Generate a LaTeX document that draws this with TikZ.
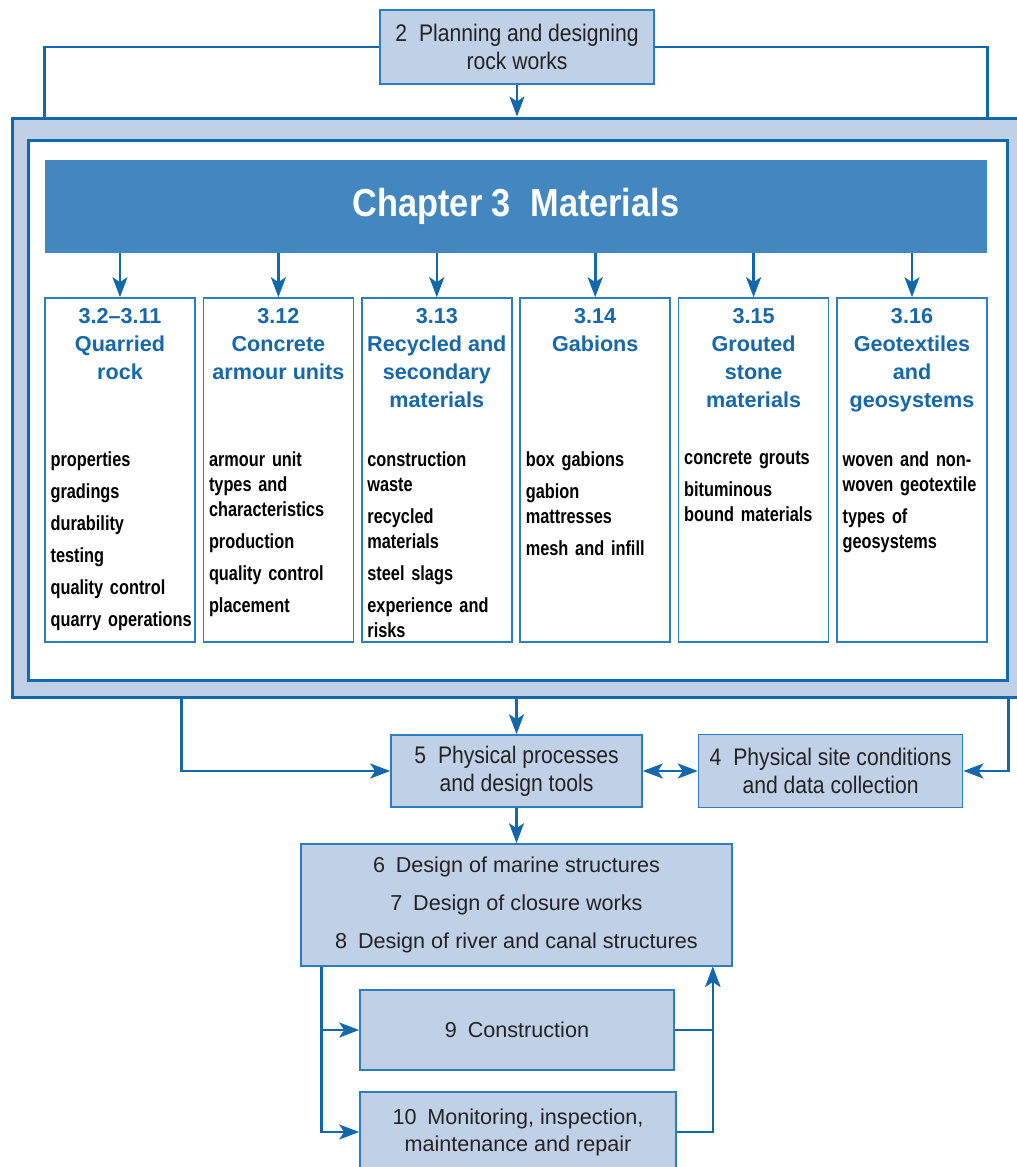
\documentclass[tikz,border=0pt]{standalone}
\usepackage{fontspec}
\setmainfont{Liberation Sans}
\newfontfamily\narrowfont[FakeStretch=0.88]{Liberation Sans}
\newfontfamily\listfont[FakeStretch=0.8]{Liberation Sans}
\newfontfamily\titlefont[FakeStretch=0.88]{Liberation Sans}
\newcommand{\narrowspace}{\spaceskip 2.9pt plus 1pt\relax}
\newcommand{\listspace}{\spaceskip 2.2pt plus 1pt\relax}
\usepackage{tikz}
\usetikzlibrary{arrows.meta, positioning}
\definecolor{linkblue}{RGB}{18,104,170}
\definecolor{boxblue}{RGB}{45,125,195}
\definecolor{paleblue}{RGB}{192,208,230}
\definecolor{bannerblue}{RGB}{66,135,192}
\definecolor{headblue}{RGB}{22,104,170}
\definecolor{textgrey}{RGB}{35,35,35}
\tikzset{
    box/.style={rectangle, draw=boxblue, fill=paleblue, line width=0.8pt, align=center, inner sep=0pt, text=textgrey},
    narrowbox/.style={box, font=\narrowfont\fontsize{12}{14}\selectfont\narrowspace},
    widebox/.style={box, font=\fontsize{10.8}{13.5}\selectfont},
    colbox/.style={rectangle, draw=boxblue, fill=white, line width=0.8pt, minimum width=75pt, minimum height=172pt, inner sep=0pt},
    colhead/.style={anchor=north, yshift=-5.5pt, inner sep=0pt, align=center, text=headblue, font=\bfseries\fontsize{10.8}{14}\selectfont},
    collist/.style={anchor=north west, xshift=3pt, yshift=-77pt, inner sep=0pt, align=left, text width=72pt, text=black, font=\listfont\bfseries\fontsize{10.2}{12.5}\selectfont\listspace},
    link/.style={draw=linkblue, line width=1.3pt, -{Stealth[length=10pt, width=7.5pt, inset=2.5pt]}},
    linkline/.style={draw=linkblue, line width=1.3pt},
    twoway/.style={draw=linkblue, line width=1.3pt, {Stealth[length=10pt, width=7.5pt, inset=2.5pt]}-{Stealth[length=10pt, width=7.5pt, inset=2.5pt]}}
}

\begin{document}
\begin{tikzpicture}[x=0.5pt, y=-0.5pt]
    \useasboundingbox (0,0) rectangle (1017,1167);

    % materials frame
    \node[rectangle, draw=linkblue, fill=paleblue, line width=1.5pt, minimum width=509pt, minimum height=289.5pt] (frame) at (521,407.5) {};
    \node[rectangle, draw=linkblue, fill=white, line width=1.5pt, minimum width=489.5pt, minimum height=270pt] (inner) at (517.5,410) {};
    \node[rectangle, fill=bannerblue, minimum width=471pt, minimum height=46.5pt, text=white, font=\titlefont\bfseries\fontsize{19.5}{22}\selectfont] (banner) at (516,206.5) {Chapter 3\enspace Materials};

    \node[colbox] (quarry) at (120,470) {};
    \node[colbox] (concrete) [right=3.4pt of quarry] {};
    \node[colbox] (recycled) [right=3.4pt of concrete] {};
    \node[colbox] (gabion) [right=3.4pt of recycled] {};
    \node[colbox] (grouted) [right=3.4pt of gabion] {};
    \node[colbox] (geotex) [right=3.4pt of grouted] {};

    \node[colhead] (quarryhead) at (quarry.north) {3.2\textendash3.11\\Quarried\\rock};
    \node[colhead] (concretehead) at (concrete.north) {3.12\\Concrete\\armour units};
    \node[colhead] (recycledhead) at (recycled.north) {3.13\\Recycled and\\secondary\\materials};
    \node[colhead] (gabionhead) at (gabion.north) {3.14\\Gabions};
    \node[colhead] (groutedhead) at (grouted.north) {3.15\\Grouted\\stone\\materials};
    \node[colhead] (geotexhead) at (geotex.north) {3.16\\Geotextiles\\and\\geosystems};

    \node[collist] (quarrylist) at (quarry.north west) {properties\\[3.5pt]gradings\\[3.5pt]durability\\[3.5pt]testing\\[3.5pt]quality control\\[3.5pt]quarry operations};
    \node[collist] (concretelist) at (concrete.north west) {armour unit\\types and\\characteristics\\[3.5pt]production\\[3.5pt]quality control\\[3.5pt]placement};
    \node[collist] (recycledlist) at (recycled.north west) {construction\\waste\\[3.5pt]recycled\\materials\\[3.5pt]steel slags\\[3.5pt]experience and\\risks};
    \node[collist] (gabionlist) at (gabion.north west) {box gabions\\[3.5pt]gabion\\mattresses\\[3.5pt]mesh and infill};
    \node[collist] (groutedlist) at (grouted.north west) {concrete grouts\\[3.5pt]bituminous\\bound materials};
    \node[collist] (geotexlist) at (geotex.north west) {woven and non-\\woven geotextile\\[3.5pt]types of\\geosystems};

    % other chapters
    \node[narrowbox, minimum width=137pt, minimum height=37pt] (plan) at (517,47) {2\enspace Planning and designing\\rock works};
    \node[narrowbox, minimum width=125.5pt, minimum height=36pt] (phys) at (516.5,771) {5\enspace Physical processes\\and design tools};
    \node[narrowbox, minimum width=132pt, minimum height=36.5pt] (site) [right=27.5pt of phys] {4\enspace Physical site conditions\\and data collection};
    \node[widebox, minimum width=215.5pt, minimum height=61pt, font=\fontsize{10.8}{19}\selectfont] (design) at (516.5,905) {6\enspace Design of marine structures\\7\enspace Design of closure works\\8\enspace Design of river and canal structures};
    \node[widebox, minimum width=157pt, minimum height=40pt] (constr) at (517,1030) {9\enspace Construction};
    \node[widebox, minimum width=158pt, minimum height=40pt] (monitor) at (518,1132) {10\enspace Monitoring, inspection,\\maintenance and repair};

    % connectors
    \draw[linkline] (plan.west) -| (banner.west |- frame.north);
    \draw[linkline] (plan.east) -| (banner.east |- frame.north);
    \draw[link] (plan.south) -- (frame.north -| plan.south);
    \foreach \col in {quarry,concrete,recycled,gabion,grouted,geotex}
        \draw[link] (banner.south -| \col.north) -- (\col.north);
    \draw[link] (frame.south -| phys.north) -- (phys.north);
    \draw[link] ([xshift=85.5pt]frame.south west) |- (phys.west);
    \draw[link] (inner.east |- frame.south) |- (site.east);
    \draw[twoway] (phys.east) -- (site.west);
    \draw[link] (phys.south) -- (design.north);
    \draw[link] ([xshift=10.5pt]design.south west) |- (constr.west);
    \draw[link] ([xshift=10.5pt]design.south west) |- (monitor.west);
    \draw[link] (constr.east) -| ([xshift=-10pt]design.south east);
    \draw[link] (monitor.east) -| ([xshift=-10pt]design.south east);
\end{tikzpicture}
\end{document}
